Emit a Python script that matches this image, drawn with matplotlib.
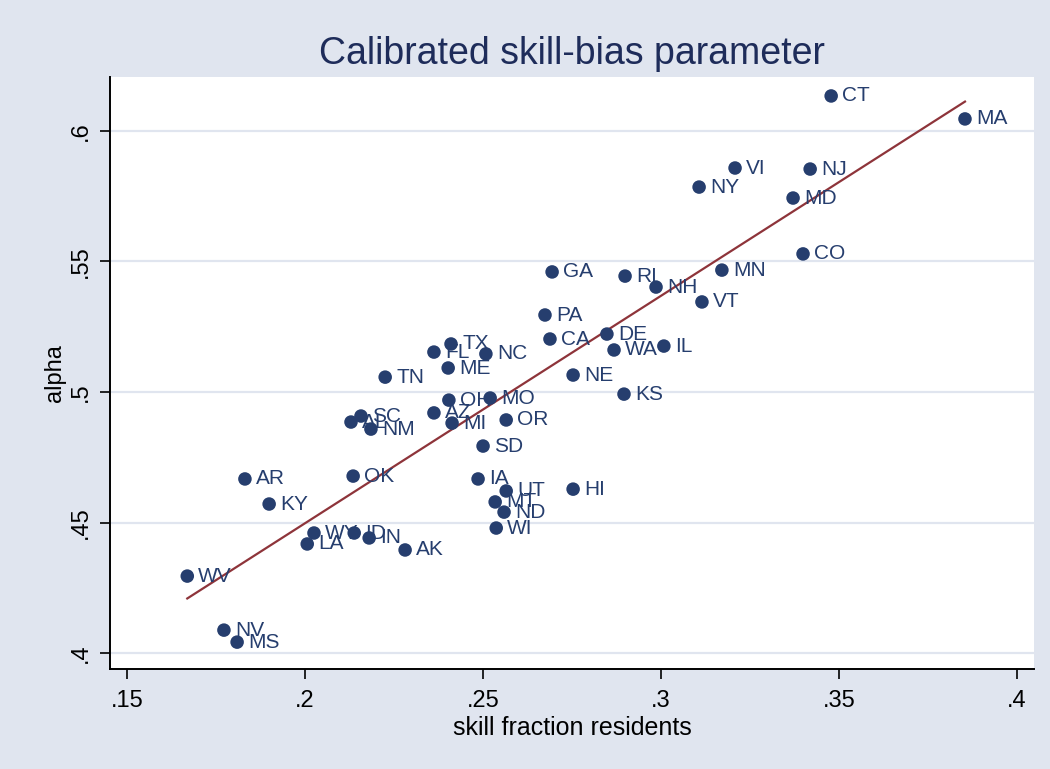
"""Calibrated skill-bias parameter vs skill fraction of residents (Stata-style scatter)"""
import matplotlib.pyplot as plt
import numpy as np

# ============================================================================
# DATA
# ============================================================================
states = ['CT', 'MA', 'VI', 'NJ', 'NY', 'MD', 'CO', 'MN', 'GA', 'RI',
          'NH', 'VT', 'PA', 'DE', 'CA', 'IL', 'WA', 'TX', 'FL', 'NC',
          'ME', 'TN', 'NE', 'KS', 'OH', 'MO', 'AZ', 'SC', 'AL', 'NM',
          'MI', 'OR', 'SD', 'AR', 'OK', 'IA', 'UT', 'MT', 'ND', 'WI',
          'HI', 'KY', 'WY', 'LA', 'ID', 'IN', 'AK', 'WV', 'NV', 'MS']

skill_frac = [0.3478, 0.3854, 0.3208, 0.3419, 0.3107, 0.3371, 0.3399, 0.3171, 0.2694, 0.2899,
              0.2986, 0.3115, 0.2674, 0.2848, 0.2688, 0.3008, 0.2868, 0.2410, 0.2362, 0.2508,
              0.2402, 0.2225, 0.2753, 0.2896, 0.2404, 0.2520, 0.2362, 0.2157, 0.2129, 0.2185,
              0.2413, 0.2565, 0.2500, 0.1831, 0.2135, 0.2486, 0.2565, 0.2534, 0.2559, 0.2537,
              0.2753, 0.1899, 0.2025, 0.2006, 0.2138, 0.2180, 0.2281, 0.1669, 0.1772, 0.1809]

alpha = [0.6134, 0.6046, 0.5858, 0.5854, 0.5785, 0.5743, 0.5529, 0.5467, 0.5460, 0.5444,
         0.5402, 0.5345, 0.5295, 0.5222, 0.5203, 0.5176, 0.5161, 0.5184, 0.5153, 0.5146,
         0.5092, 0.5057, 0.5065, 0.4992, 0.4969, 0.4977, 0.4920, 0.4908, 0.4885, 0.4858,
         0.4881, 0.4893, 0.4793, 0.4667, 0.4678, 0.4667, 0.4621, 0.4579, 0.4540, 0.4479,
         0.4628, 0.4571, 0.4460, 0.4418, 0.4460, 0.4441, 0.4395, 0.4295, 0.4088, 0.4042]

x_ticks = [0.15, 0.2, 0.25, 0.3, 0.35, 0.4]
x_tick_labels = ['.15', '.2', '.25', '.3', '.35', '.4']
y_ticks = [0.4, 0.45, 0.5, 0.55, 0.6]
y_tick_labels = ['.4', '.45', '.5', '.55', '.6']

# ============================================================================
# STYLE
# ============================================================================
BG = '#E0E5EF'
NAVY = '#263E6E'
MAROON = '#8E343A'
plt.rcParams['font.family'] = ['Liberation Sans', 'DejaVu Sans']

x = np.array(skill_frac)
y = np.array(alpha)

fig = plt.figure(figsize=(10.5, 7.69), dpi=100, facecolor=BG)
ax = fig.add_axes([0.1048, 0.130, 0.88, 0.770])
ax.set_facecolor('white')

# --- gridlines (horizontal only) ---
for yt in y_ticks:
    ax.axhline(yt, color=BG, linewidth=1.6, zorder=0)

# --- linear fit over the data range ---
slope, intercept = np.polyfit(x, y, 1)
xf = np.array([x.min(), x.max()])
ax.plot(xf, intercept + slope * xf, color=MAROON, linewidth=1.6, zorder=2)

# --- scatter with state labels at 3 o'clock ---
ax.scatter(x, y, s=95, color=NAVY, edgecolors='none', zorder=3)
for st, xi, yi in zip(states, x, y):
    ax.annotate(st, (xi, yi), xytext=(8, 0), textcoords='offset points',
                ha='left', va='center', fontsize=15, color=NAVY, zorder=4)

# ============================================================================
# FORMATTING
# ============================================================================
ax.set_xlim(0.1452, 0.4048)
ax.set_ylim(0.3939, 0.6207)
ax.set_xticks(x_ticks)
ax.set_xticklabels(x_tick_labels)
ax.set_yticks(y_ticks)
ax.set_yticklabels(y_tick_labels, rotation=90, va='center')
ax.tick_params(axis='both', direction='out', length=7, width=1.2,
               labelsize=17, colors='black')
ax.tick_params(axis='x', pad=8)
ax.tick_params(axis='y', pad=6)

for side in ['top', 'right']:
    ax.spines[side].set_visible(False)
for side in ['left', 'bottom']:
    ax.spines[side].set_linewidth(1.4)
    ax.spines[side].set_color('black')

ax.set_xlabel('skill fraction residents', fontsize=18, labelpad=3)
ax.set_ylabel('alpha', fontsize=17, labelpad=3)
ax.set_title('Calibrated skill-bias parameter', fontsize=27, color='#1E2C5A', pad=9)

plt.savefig('out.png', dpi=100, facecolor=BG)
